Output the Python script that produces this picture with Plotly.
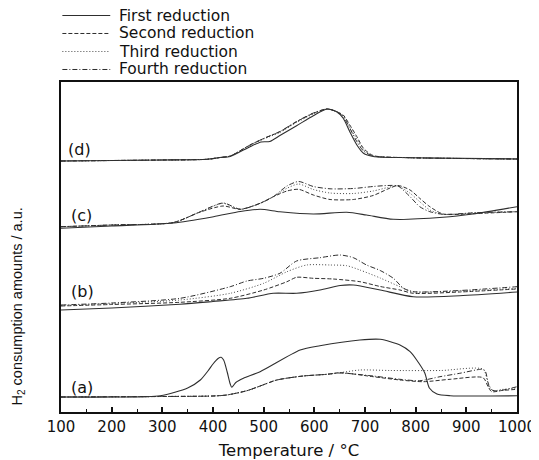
import plotly.graph_objects as go

# ---------------- data ----------------
series_names = ["First reduction", "Second reduction", "Third reduction", "Fourth reduction"]

# panel (a)
a1_T = [100, 200, 296, 350, 375, 390, 400, 410, 416, 421, 428, 434, 437, 445, 460, 493, 572, 611, 690, 730, 769, 789, 802, 818, 827, 842, 868, 1000]
a1_y = [1.5, 1.5, 1.63, 2.4, 3.2, 4.1, 4.8, 5.35, 5.47, 5.2, 4.0, 2.8, 2.47, 2.95, 3.37, 4.03, 6.2, 6.63, 7.2, 7.27, 6.7, 6.03, 5.2, 3.9, 2.4, 1.8, 1.63, 1.62]
a2_T = [100, 300, 400, 427, 467, 493, 526, 578, 625, 651, 716, 769, 815, 868, 933, 943, 950, 970, 1000]
a2_y = [1.5, 1.55, 1.6, 1.7, 2.13, 2.6, 3.2, 3.6, 3.77, 3.93, 3.53, 3.2, 3.03, 3.27, 3.43, 2.53, 2.03, 2.15, 2.27]
a3_T = [100, 300, 400, 427, 467, 493, 526, 578, 625, 651, 690, 750, 850, 933, 943, 952, 970, 1000]
a3_y = [1.5, 1.55, 1.6, 1.7, 2.13, 2.6, 3.2, 3.6, 3.77, 3.93, 4.2, 4.15, 4.15, 4.27, 2.9, 2.13, 2.25, 2.4]
a4_T = [100, 300, 400, 427, 467, 493, 526, 578, 625, 651, 716, 769, 808, 848, 887, 930, 937, 947, 960, 1000]
a4_y = [1.5, 1.55, 1.6, 1.7, 2.13, 2.6, 3.2, 3.6, 3.77, 3.9, 3.6, 3.27, 3.13, 3.53, 3.87, 4.27, 4.13, 2.3, 2.1, 2.53]

# panel (b)
b1_T = [100, 200, 335, 400, 467, 519, 565, 611, 651, 677, 730, 795, 887, 1000]
b1_y = [10.2, 10.4, 10.77, 11.05, 11.37, 11.87, 11.87, 12.2, 12.65, 12.7, 12.2, 11.53, 11.63, 12.0]
b2_T = [100, 200, 335, 434, 500, 546, 565, 598, 637, 690, 730, 769, 795, 887, 1000]
b2_y = [10.6, 10.75, 10.97, 11.37, 12.2, 13.03, 13.47, 13.37, 13.3, 13.03, 12.55, 12.2, 11.87, 12.0, 12.3]
b3_T = [100, 200, 335, 434, 500, 546, 585, 631, 664, 690, 730, 769, 795, 887, 1000]
b3_y = [10.65, 10.85, 11.2, 11.87, 12.87, 14.03, 14.7, 14.7, 14.63, 14.2, 13.4, 12.53, 12.03, 12.1, 12.37]
b4_T = [100, 200, 335, 434, 467, 500, 532, 565, 611, 651, 677, 703, 730, 756, 776, 795, 887, 1000]
b4_y = [10.7, 10.9, 11.37, 12.53, 13.1, 13.37, 13.87, 15.1, 15.43, 15.7, 15.43, 14.7, 14.15, 13.37, 12.37, 12.03, 12.15, 12.53]

# panel (c)
c1_T = [100, 200, 322, 401, 454, 493, 532, 598, 664, 703, 756, 854, 913, 1000]
c1_y = [18.37, 18.6, 18.9, 19.53, 20.05, 20.27, 20.03, 19.8, 19.97, 19.7, 19.27, 19.47, 19.8, 20.53]
c_T = [100, 200, 322, 375, 420, 454, 493, 519, 546, 569, 598, 631, 677, 716, 745, 765, 789, 808, 828, 854, 920, 1000]
c2_y = [18.53, 18.7, 18.95, 20.0, 20.6, 20.27, 20.87, 21.53, 22.1, 22.27, 21.7, 21.25, 21.25, 21.65, 22.3, 22.65, 22.2, 21.37, 20.53, 19.8, 19.85, 20.03]
c3_y = [18.53, 18.7, 18.95, 20.03, 20.87, 20.27, 20.87, 21.53, 22.37, 22.8, 22.25, 21.9, 21.85, 22.1, 22.45, 22.6, 21.87, 21.03, 20.2, 19.77, 19.93, 20.03]
c4_y = [18.53, 18.7, 18.95, 20.03, 20.9, 20.27, 20.87, 21.53, 22.6, 23.05, 22.55, 22.32, 22.35, 22.55, 22.65, 22.6, 21.53, 20.53, 20.03, 19.77, 19.93, 20.03]

# panel (d)
d1_T = [100, 300, 388, 414, 434, 473, 495, 512, 532, 565, 598, 625, 644, 657, 670, 684, 697, 716, 789, 1000]
d1_y = [25.1, 25.2, 25.27, 25.45, 25.55, 26.53, 27.0, 27.05, 27.65, 28.63, 29.63, 30.3, 30.03, 29.37, 28.03, 26.7, 25.87, 25.55, 25.43, 25.3]
d_T = [100, 300, 388, 414, 434, 473, 500, 532, 565, 598, 625, 644, 657, 670, 684, 697, 716, 789, 1000]
d2_y = [25.1, 25.2, 25.27, 25.45, 25.6, 26.7, 27.35, 28.03, 29.03, 29.87, 30.3, 30.03, 29.7, 28.7, 27.53, 26.37, 25.65, 25.43, 25.3]
d3_y = [25.1, 25.2, 25.27, 25.45, 25.6, 26.65, 27.3, 27.95, 28.95, 29.8, 30.3, 30.03, 29.6, 28.5, 27.3, 26.2, 25.6, 25.43, 25.3]
d4_y = [25.1, 25.2, 25.27, 25.45, 25.6, 26.7, 27.35, 28.05, 29.05, 29.9, 30.3, 30.03, 29.55, 28.37, 27.03, 26.1, 25.6, 25.43, 25.3]

panel_labels = ["(a)", "(b)", "(c)", "(d)"]
panel_label_T = [115, 115, 115, 110]
panel_label_y = [2.5, 12.1, 19.7, 26.3]

x_ticks = [100, 200, 300, 400, 500, 600, 700, 800, 900, 1000]

# ---------------- styling ----------------
dashes = ["solid", "4px,2px", "1px,2px", "5px,2px,1px,2px"]
colors = ["#2e2e2e", "#2e2e2e", "#4a4a4a", "#2e2e2e"]
widths = [1.1, 1.0, 1.0, 1.0]

panels = [
    [(a1_T, a1_y), (a2_T, a2_y), (a3_T, a3_y), (a4_T, a4_y)],
    [(b1_T, b1_y), (b2_T, b2_y), (b3_T, b3_y), (b4_T, b4_y)],
    [(c1_T, c1_y), (c_T, c2_y), (c_T, c3_y), (c_T, c4_y)],
    [(d1_T, d1_y), (d_T, d2_y), (d_T, d3_y), (d_T, d4_y)],
]

fig = go.Figure()
for p_idx, panel in enumerate(panels):
    for s_idx, (T, y) in enumerate(panel):
        fig.add_trace(go.Scatter(
            x=T, y=y, mode="lines", name=series_names[s_idx],
            legendgroup=series_names[s_idx], showlegend=False,
            line=dict(color=colors[s_idx], width=widths[s_idx], dash=dashes[s_idx],
                      shape="spline", smoothing=0.7),
        ))

# panel labels
for lab, lt, ly in zip(panel_labels, panel_label_T, panel_label_y):
    fig.add_annotation(x=lt, y=ly, xref="x", yref="y", text=lab, showarrow=False,
                       xanchor="left", yanchor="middle",
                       font=dict(family="DejaVu Sans", size=16, color="#111"))

# manual legend above the plot
row_y = [1.2015, 1.147, 1.0924, 1.0379]
for s_idx, name in enumerate(series_names):
    fig.add_shape(type="line", xref="paper", yref="paper",
                  x0=0.003, x1=0.108, y0=row_y[s_idx], y1=row_y[s_idx],
                  line=dict(color=colors[s_idx], width=1, dash=dashes[s_idx]))
    fig.add_annotation(x=0.125, y=row_y[s_idx], xref="paper", yref="paper",
                       text=name, showarrow=False, xanchor="left", yanchor="middle",
                       borderpad=0,
                       font=dict(family="DejaVu Sans", size=15.5, color="#111"))

# y-axis title
fig.add_annotation(x=-0.094, y=0.32, xref="paper", yref="paper",
                   text="H<sub>2</sub> consumption amounts / a.u.", textangle=-90,
                   showarrow=False, xanchor="center", yanchor="middle",
                   font=dict(family="Liberation Sans", size=14.5, color="#111"))

# the page body adds an 8px offset, so the figure is sized/margined accordingly
fig.update_layout(
    width=531, height=452,
    margin=dict(l=53, r=22, t=74, b=48, autoexpand=False),
    paper_bgcolor="white", plot_bgcolor="white",
    showlegend=False,
    xaxis=dict(range=[100, 1000], tickvals=x_ticks, ticks="inside", ticklen=5,
               tickwidth=1.5, tickcolor="#111", automargin=False,
               minor=dict(dtick=50, tick0=100, ticks="inside", ticklen=3, tickwidth=1.2, tickcolor="#111"),
               showline=True, mirror=True, linecolor="#111", linewidth=2,
               showgrid=False, zeroline=False,
               tickfont=dict(family="DejaVu Sans", size=15, color="#111"),
               title=dict(text="Temperature / °C", standoff=12,
                          font=dict(family="DejaVu Sans", size=16.5, color="#111"))),
    yaxis=dict(range=[0, 33], showticklabels=False, ticks="", automargin=False,
               showline=True, mirror=True, linecolor="#111", linewidth=2,
               showgrid=False, zeroline=False),
)

fig.write_html("out.html")
